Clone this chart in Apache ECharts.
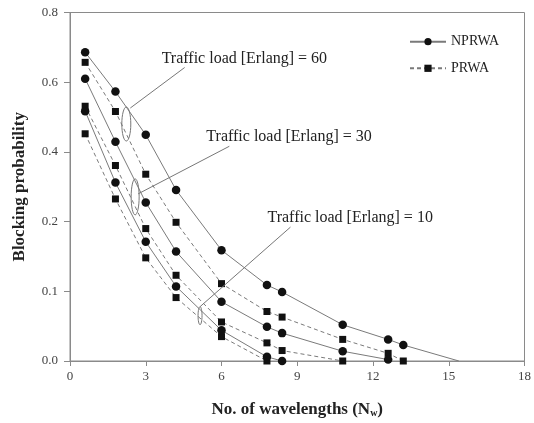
<!DOCTYPE html>
<html>
<head>
<meta charset="utf-8">
<script src="https://cdn.jsdelivr.net/npm/echarts@6/dist/echarts.min.js"></script>
<style>html,body{margin:0;padding:0;background:#fff}#c{width:534px;height:423px}</style>
</head>
<body>
<div id="c"></div>
<script>
// ---- data ----
const xs = [0.6, 1.8, 3.0, 4.2, 6.0, 7.8, 8.4, 10.8, 12.6, 13.2];
const np60 = [0.686, 0.573, 0.449, 0.291, 0.159, 0.109, 0.099, 0.052, 0.031, 0.023];
const np60EndX = 15.4;
const pr60 = [0.657, 0.516, 0.336, 0.199, 0.111, 0.071, 0.063, 0.031, 0.011, 0.0];
const np30 = [0.610, 0.429, 0.255, 0.157, 0.085, 0.049, 0.040, 0.014, 0.002];
const pr30 = [0.531, 0.361, 0.190, 0.123, 0.056, 0.026, 0.015, 0.0];
const np10 = [0.517, 0.312, 0.171, 0.107, 0.044, 0.006, 0.0];
const pr10 = [0.452, 0.265, 0.148, 0.091, 0.035, 0.0];
const yTickLabels = ['0.0', '0.1', '0.2', '0.4', '0.6', '0.8'];
const xTicks = [0, 3, 6, 9, 12, 15, 18];
const annotationTexts = ['Traffic load [Erlang] = 60', 'Traffic load [Erlang] = 30', 'Traffic load [Erlang] = 10'];
// annotation anchors in data space [x, probability]
const ellipseAt = [[2.23, 0.48], [2.58, 0.271], [5.15, 0.065]];
const textAt = [[3.63, 0.668], [5.40, 0.442], [7.82, 0.21]];

// piecewise axis: 0..0.2 in steps of 0.1, then 0.2..0.8 in steps of 0.2
function tr(v) { return v <= 0.2 ? v / 0.1 : 2 + (v - 0.2) / 0.2; }

const FONT = '"Liberation Serif", "Times New Roman", serif';
const LINE = '#7a7a7a';

function mk(vals, extraEnd) {
  const d = vals.map((v, i) => [xs[i], tr(v)]);
  if (extraEnd !== undefined) d.push({ value: [extraEnd, 0], symbol: 'none' });
  return d;
}
function series(name, vals, dashed, extraEnd) {
  return {
    name: name, type: 'line', data: mk(vals, extraEnd),
    symbol: dashed ? 'rect' : 'circle',
    symbolSize: dashed ? 7 : 8.5,
    itemStyle: { color: '#111' },
    lineStyle: { color: LINE, width: 1, type: dashed ? [4, 3] : 'solid' },
    emphasis: { disabled: true }, silent: true, z: dashed ? 3 : 4
  };
}

const chart = echarts.init(document.getElementById('c'), null, { renderer: 'canvas' });
chart.setOption({
  animation: false,
  backgroundColor: '#fff',
  grid: { left: 70, right: 5, top: 12.5, bottom: 52.3, show: true, borderColor: '#8a8a8a', borderWidth: 1 },
  legend: {
    data: ['NPRWA', 'PRWA'], orient: 'vertical', left: 404, top: 29.7,
    itemWidth: 36, itemHeight: 9, itemGap: 12.6,
    textStyle: { fontFamily: FONT, fontSize: 14, color: '#222', lineHeight: 14 },
    selectedMode: false
  },
  xAxis: {
    type: 'value', min: 0, max: 18, interval: 3,
    name: 'No. of wavelengths (N{sub|w})', nameLocation: 'middle', nameGap: 40,
    nameTextStyle: { fontFamily: FONT, fontSize: 17, fontWeight: 'bold', color: '#222',
      rich: { sub: { fontFamily: FONT, fontSize: 10, fontWeight: 'bold', color: '#222', verticalAlign: 'bottom', padding: [6, 0, 0, 0] } } },
    axisLine: { lineStyle: { color: '#8a8a8a' } },
    axisTick: { show: true, length: 5, lineStyle: { color: '#8a8a8a' } },
    axisLabel: { fontFamily: FONT, fontSize: 13, color: '#444', margin: 9,
      formatter: v => xTicks.indexOf(v) >= 0 ? String(v) : '' },
    splitLine: { show: false }
  },
  yAxis: {
    type: 'value', min: 0, max: 5, interval: 1,
    name: 'Blocking probability', nameLocation: 'middle', nameGap: 42,
    nameTextStyle: { fontFamily: FONT, fontSize: 17, fontWeight: 'bold', color: '#222' },
    axisLine: { show: true, lineStyle: { color: '#8a8a8a' } },
    axisTick: { show: true, length: 6, lineStyle: { color: '#8a8a8a' } },
    axisLabel: { fontFamily: FONT, fontSize: 13, color: '#444', margin: 12,
      formatter: v => yTickLabels[Math.round(v)] },
    splitLine: { show: false }
  },
  series: [
    series('NPRWA', np60, false, np60EndX),
    series('PRWA', pr60, true),
    series('NPRWA', np30, false),
    series('PRWA', pr30, true),
    series('NPRWA', np10, false),
    series('PRWA', pr10, true)
  ]
});

// annotations positioned through the chart's own scales
const P = (p) => chart.convertToPixel({ gridIndex: 0 }, [p[0], tr(p[1])]);
const ell = [{ rx: 4.5, ry: 17, from: [4, -16] }, { rx: 4, ry: 18, from: [3, -3] }, { rx: 2, ry: 9, from: [0, -9] }];
const gfx = [];
annotationTexts.forEach((t, i) => {
  const c = P(ellipseAt[i]);
  const tp = P(textAt[i]);
  gfx.push({ type: 'ellipse', shape: { cx: c[0], cy: c[1], rx: ell[i].rx, ry: ell[i].ry },
    style: { fill: 'none', stroke: '#777', lineWidth: 1 }, silent: true, z: 10 });
  gfx.push({ type: 'line', shape: { x1: c[0] + ell[i].from[0], y1: c[1] + ell[i].from[1], x2: tp[0] + 23, y2: tp[1] + 9 },
    style: { stroke: '#777', lineWidth: 1 }, silent: true, z: 10 });
  gfx.push({ type: 'text', x: tp[0], y: tp[1], style: { text: t, font: '16px ' + FONT, fill: '#222', textAlign: 'left', textVerticalAlign: 'middle' }, silent: true, z: 11 });
});
chart.setOption({ graphic: gfx });
</script>
</body>
</html>
